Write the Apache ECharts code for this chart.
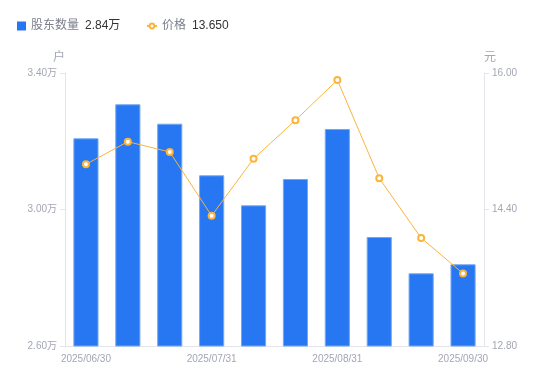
<!DOCTYPE html>
<html>
<head>
<meta charset="utf-8">
<script src="https://cdn.jsdelivr.net/npm/echarts@6/dist/echarts.min.js"></script>
<style>html,body{margin:0;padding:0;background:#fff}#c{width:550px;height:381px}</style>
</head>
<body>
<div id="c"></div>
<script>
var categories = ['2025/06/30','2025/07/10','2025/07/20','2025/07/31','2025/08/10','2025/08/20','2025/08/31','2025/09/10','2025/09/20','2025/09/30'];
var holders = [32086, 33083, 32514, 31002, 30123, 30894, 32359, 29194, 28130, 28394];
var prices = [14.93, 15.195, 15.074, 14.327, 14.995, 15.446, 15.918, 14.766, 14.066, 13.65];
var holderTicks = [26000, 30000, 34000];
var priceTicks = [12.8, 14.4, 16.0];
var seriesNames = ['股东数量', '价格'];
var axisNames = ['户', '元'];

var FONT = '"Liberation Sans", Arial, "Noto Sans CJK SC", sans-serif';
var labelColor = '#a3a6b4';
var lineColor = '#e3e5eb';

var legendValues = {};
legendValues[seriesNames[0]] = (holders[holders.length-1]/10000).toFixed(2) + '万';
legendValues[seriesNames[1]] = prices[prices.length-1].toFixed(3);

function legendFmt(name){ return '{n|' + name + '}{v|' + legendValues[name] + '}'; }
var legendText = {
  fontFamily: FONT,
  rich: {
    n: {fontSize: 12, color: '#7b7f8c', fontFamily: FONT},
    v: {fontSize: 12, color: '#333333', padding: [0,0,0,6], fontFamily: FONT}
  }
};

var chart = echarts.init(document.getElementById('c'));
chart.setOption({
  animation: false,
  textStyle: {fontFamily: FONT},
  legend: [{
    left: 12, top: 15,
    itemWidth: 9, itemHeight: 9, itemGap: 5,
    data: [{name: seriesNames[0], icon: 'rect', itemStyle: {borderWidth: 0}}],
    formatter: legendFmt,
    textStyle: legendText
  }, {
    left: 141, top: 15,
    itemWidth: 10, itemHeight: 6, itemGap: 5,
    data: [{name: seriesNames[1]}],
    lineStyle: {width: 2},
    formatter: legendFmt,
    textStyle: legendText
  }],
  grid: {left: 65, right: 66, top: 73, bottom: 35},
  xAxis: {
    type: 'category',
    data: categories,
    axisLine: {lineStyle: {color: lineColor}},
    axisTick: {show: false},
    axisLabel: {interval: 2, color: labelColor, fontSize: 10, margin: 8, fontFamily: FONT}
  },
  yAxis: [{
    type: 'value',
    name: axisNames[0],
    nameTextStyle: {color: labelColor, fontSize: 12, align: 'right', fontFamily: FONT},
    nameGap: 9,
    min: holderTicks[0], max: holderTicks[holderTicks.length-1], interval: holderTicks[1]-holderTicks[0],
    axisLine: {show: true, lineStyle: {color: lineColor}},
    axisTick: {show: true, length: 5, lineStyle: {color: lineColor}},
    splitLine: {show: false},
    axisLabel: {color: labelColor, fontSize: 10, fontFamily: FONT, formatter: function(v){ return (v/10000).toFixed(2) + '万'; }}
  }, {
    type: 'value',
    name: axisNames[1],
    position: 'right',
    nameTextStyle: {color: labelColor, fontSize: 12, align: 'left', fontFamily: FONT},
    nameGap: 9,
    min: priceTicks[0], max: priceTicks[priceTicks.length-1], interval: priceTicks[1]-priceTicks[0],
    axisLine: {show: true, lineStyle: {color: lineColor}},
    axisTick: {show: true, length: 5, lineStyle: {color: lineColor}},
    splitLine: {show: false},
    axisLabel: {color: labelColor, fontSize: 10, fontFamily: FONT, formatter: function(v){ return v.toFixed(2); }}
  }],
  series: [{
    name: seriesNames[0],
    type: 'bar',
    data: holders,
    barWidth: '60%',
    itemStyle: {color: '#2677f1', borderColor: '#74a8f6', borderWidth: 1}
  }, {
    name: seriesNames[1],
    type: 'line',
    yAxisIndex: 1,
    data: prices,
    symbol: 'emptyCircle',
    symbolSize: 6,
    lineStyle: {color: '#fbb43c', width: 1},
    itemStyle: {color: '#fbb43c', borderColor: '#fbb43c', borderWidth: 2}
  }]
});
</script>
</body>
</html>
